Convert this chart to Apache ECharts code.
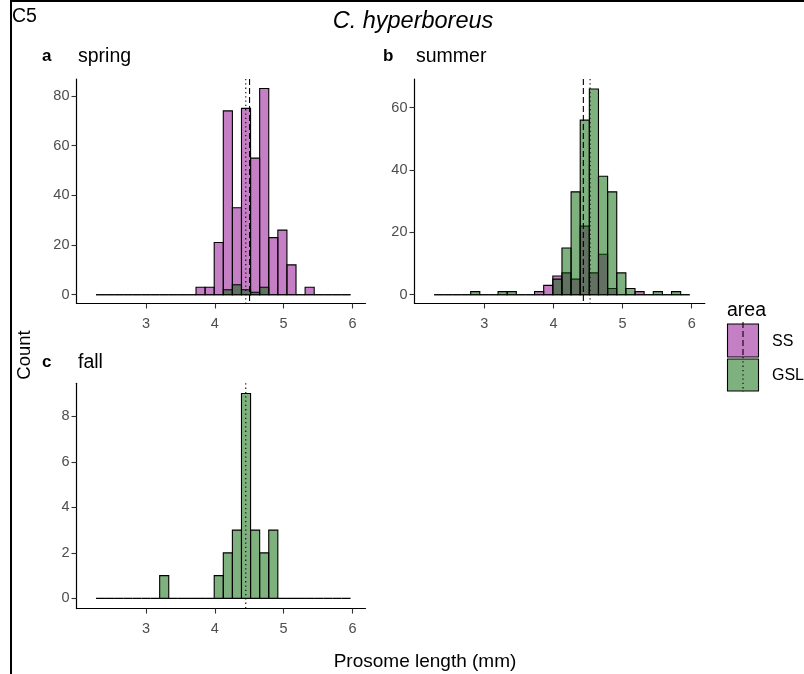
<!DOCTYPE html>
<html>
<head>
<meta charset="utf-8">
<script src="https://cdn.jsdelivr.net/npm/echarts@6/dist/echarts.min.js"></script>
<style>
  html, body { margin: 0; padding: 0; background: #fff; }
  #chart { width: 804px; height: 674px; }
</style>
</head>
<body>
<div id="chart"></div>
<script>
// histogram bins (shared by all panels)
var binStart = 2.274;
var binWidth = 0.1321;

// counts per bin
var springSS  = [0,0,0,0,0,0,0,0,0,0,0,3,3,21,74,35,75,55,83,23,26,12,0,3,0,0,0,0];
var springGSL = [0,0,0,0,0,0,0,0,0,0,0,0,0,0,2,4,2,1,3,0,0,0,0,0,0,0,0,0];
var summerSS  = [0,0,0,0,0,0,0,0,0,0,0,1,3,6,7,5,22,7,13,2,0,0,1,0,0,0,0,0];
var summerGSL = [0,0,0,0,1,0,0,1,1,0,0,0,0,5,15,33,56,66,38,33,7,2,0,0,1,0,1,0];
var fallGSL   = [0,0,0,0,0,0,0,1,0,0,0,0,0,1,2,3,9,3,2,3,0,0,0,0,0,0,0,0];

// mean prosome length lines per panel (spring, summer, fall)
var meanSS  = [4.505, 4.433, null];
var meanGSL = [4.45, 4.53, 4.45];

var xTicks = [3, 4, 5, 6];
var yTicks = [[0, 20, 40, 60, 80], [0, 20, 40, 60], [0, 2, 4, 6, 8]];

var colSS = 'rgba(139,0,139,0.5)';
var colGSL = 'rgba(0,100,0,0.5)';
var font = '"Liberation Sans", Arial, sans-serif';

function toBins(counts) {
    return counts.map(function (c, i) {
        return [binStart + i * binWidth, binStart + (i + 1) * binWidth, c];
    });
}

function renderBar(params, api) {
    var top = api.coord([api.value(0), api.value(2)]);
    var bot = api.coord([api.value(1), 0]);
    return {
        type: 'rect',
        shape: { x: top[0], y: top[1], width: bot[0] - top[0], height: bot[1] - top[1] },
        style: api.style()
    };
}

function histSeries(panel, counts, color) {
    return {
        type: 'custom',
        xAxisIndex: panel,
        yAxisIndex: panel,
        renderItem: renderBar,
        itemStyle: { color: color, borderColor: '#000', borderWidth: 1.1 },
        encode: { x: [0, 1], y: 2 },
        data: toBins(counts),
        silent: true
    };
}

function vlineSeries(panel, x, dash) {
    return {
        type: 'custom',
        xAxisIndex: panel,
        yAxisIndex: panel,
        z: 5,
        silent: true,
        encode: { x: 0 },
        data: [[x]],
        renderItem: function (params, api) {
            var p = api.coord([api.value(0), 0]);
            var cs = params.coordSys;
            return {
                type: 'line',
                shape: { x1: p[0], y1: cs.y, x2: p[0], y2: cs.y + cs.height },
                style: { stroke: '#000', lineWidth: 1.1, lineDash: dash }
            };
        }
    };
}

// panel boxes, in px
var grids = [
    { left: 76.5, top: 79, width: 289, height: 224.5 },
    { left: 414.5, top: 79, width: 290.3, height: 224.5 },
    { left: 76.5, top: 383.3, width: 289, height: 225.3 }
];
var yRange = [[-3.54, 86.84], [-2.82, 69.2], [-0.45, 9.45]];

var xAxes = [], yAxes = [];
grids.forEach(function (g, i) {
    xAxes.push({
        gridIndex: i, type: 'value', min: 1.99, max: 6.19,
        axisLine: { show: true, onZero: false, lineStyle: { color: '#000', width: 1.2 } },
        axisTick: { show: true, length: 5, customValues: xTicks, lineStyle: { color: '#333', width: 1.1 } },
        axisLabel: { color: '#4d4d4d', fontSize: 14.5, fontFamily: font, margin: 13, customValues: xTicks },
        splitLine: { show: false }
    });
    yAxes.push({
        gridIndex: i, type: 'value', min: yRange[i][0], max: yRange[i][1],
        axisLine: { show: true, onZero: false, lineStyle: { color: '#000', width: 1.2 } },
        axisTick: { show: true, length: 5, customValues: yTicks[i], lineStyle: { color: '#333', width: 1.1 } },
        axisLabel: { color: '#4d4d4d', fontSize: 14.5, fontFamily: font, margin: 7, customValues: yTicks[i] },
        splitLine: { show: false }
    });
});

var series = [
    histSeries(0, springSS, colSS),
    histSeries(0, springGSL, colGSL),
    histSeries(1, summerSS, colSS),
    histSeries(1, summerGSL, colGSL),
    histSeries(2, fallGSL, colGSL)
];
[0, 1, 2].forEach(function (i) {
    if (meanSS[i] != null) series.push(vlineSeries(i, meanSS[i], [6, 3]));
    if (meanGSL[i] != null) series.push(vlineSeries(i, meanGSL[i], [1.3, 3]));
});

function txt(x, y, s, opt) {
    opt = opt || {};
    return {
        type: 'text', x: x, y: y, rotation: opt.rotation || 0, silent: true,
        style: {
            text: s, fill: opt.fill || '#000', fontFamily: font,
            fontSize: opt.size || 19, fontWeight: opt.weight || 'normal',
            fontStyle: opt.style || 'normal',
            align: opt.align || 'left', verticalAlign: 'middle'
        }
    };
}

var graphics = [
    { type: 'rect', shape: { x: 11, y: 1, width: 820, height: 700 }, style: { fill: 'none', stroke: '#000', lineWidth: 2 }, silent: true },
    txt(12, 17, 'C5', { size: 19.5 }),
    txt(413, 21, 'C. hyperboreus', { size: 23.5, style: 'italic', align: 'center' }),
    txt(42, 56, 'a', { size: 17, weight: 'bold' }),
    txt(78, 57, 'spring', { size: 19.5 }),
    txt(383, 56, 'b', { size: 17, weight: 'bold' }),
    txt(416, 57, 'summer', { size: 19.5 }),
    txt(42, 362, 'c', { size: 17, weight: 'bold' }),
    txt(78, 363, 'fall', { size: 19.5 }),
    txt(25, 355, 'Count', { size: 18.5, align: 'center', rotation: Math.PI / 2 }),
    txt(425, 662, 'Prosome length (mm)', { size: 19, align: 'center' }),
    // legend
    txt(727, 311, 'area', { size: 19.5 }),
    { type: 'rect', shape: { x: 727.5, y: 324, width: 31, height: 33 }, style: { fill: colSS, stroke: '#000', lineWidth: 1.1 }, silent: true },
    { type: 'rect', shape: { x: 727.5, y: 359, width: 31, height: 32 }, style: { fill: colGSL, stroke: '#000', lineWidth: 1.1 }, silent: true },
    { type: 'line', shape: { x1: 743, y1: 322, x2: 743, y2: 357 }, style: { stroke: '#000', lineWidth: 1.1, lineDash: [6, 3] }, silent: true },
    { type: 'line', shape: { x1: 743, y1: 357, x2: 743, y2: 392 }, style: { stroke: '#000', lineWidth: 1.1, lineDash: [1.3, 3] }, silent: true },
    txt(772, 342, 'SS', { size: 16 }),
    txt(772, 376, 'GSL', { size: 16 })
];

var myChart = echarts.init(document.getElementById('chart'));
myChart.setOption({
    animation: false,
    grid: grids.map(function (g) { return Object.assign({ outerBoundsMode: 'none' }, g); }),
    xAxis: xAxes,
    yAxis: yAxes,
    series: series,
    graphic: graphics
});
</script>
</body>
</html>
